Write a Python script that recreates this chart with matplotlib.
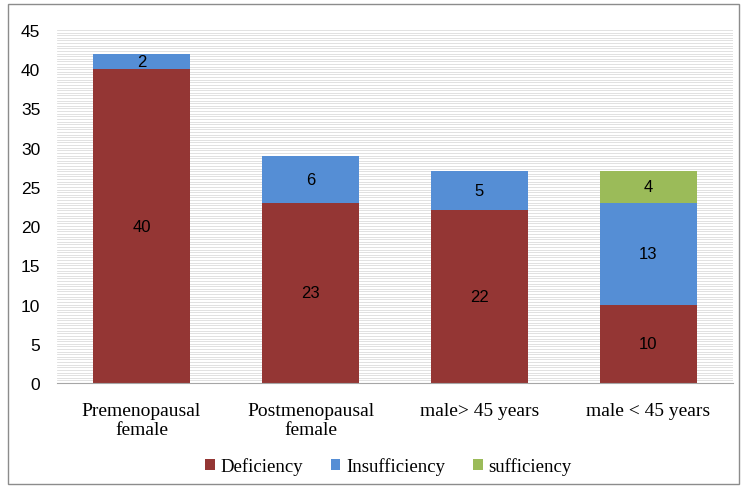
import matplotlib
matplotlib.use('Agg')
import matplotlib.pyplot as plt
import numpy as np

categories = ['Premenopausal\nfemale', 'Postmenopausal\nfemale', 'male> 45 years', 'male < 45 years']
deficiency = [40, 23, 22, 10]
insufficiency = [2, 6, 5, 13]
sufficiency = [0, 0, 0, 4]
series_names = ['Deficiency', 'Insufficiency', 'sufficiency']

RED = '#943634'
BLUE = '#558ED5'
GREEN = '#9BBB59'

fig = plt.figure(figsize=(7.44, 4.89), dpi=100)
ax = fig.add_axes([57/744, 1 - 384/489, (733-57)/744, (384-31)/489])

# outer frame like the spreadsheet chart border
fig.patches.append(plt.Rectangle((8/744, 4/489), 731/744, 480/489, transform=fig.transFigure,
                                 fill=False, edgecolor='#8c8c8c', linewidth=1.0))

# striped background lines
for yy in np.arange(0, 45, 1/3):
    ax.axhline(yy, color='#dcdcdc', linewidth=0.6, zorder=0)
ax.axhline(45, color='#dcdcdc', linewidth=0.6, zorder=0)

x = np.arange(len(categories))
w = 0.57
b1 = ax.bar(x, deficiency, w, color=RED, label=series_names[0], zorder=2)
b2 = ax.bar(x, insufficiency, w, bottom=deficiency, color=BLUE, label=series_names[1], zorder=2)
bottom3 = [d + i for d, i in zip(deficiency, insufficiency)]
b3 = ax.bar(x, sufficiency, w, bottom=bottom3, color=GREEN, label=series_names[2], zorder=2)

for vals, bots in [(deficiency, [0]*4), (insufficiency, deficiency), (sufficiency, bottom3)]:
    for xi, v, b in zip(x, vals, bots):
        if v > 0:
            ax.text(xi, b + v/2, str(v), ha='center', va='center', fontsize=12,
                    family='Liberation Sans', color='black', zorder=3)

ax.set_xlim(-0.5, 3.5)
ax.set_ylim(0, 45)
ax.set_yticks(range(0, 46, 5))
ax.set_xticks(x)
ax.set_xticklabels(categories, family='Liberation Serif', fontsize=14, linespacing=1.15)
for lab in ax.get_yticklabels():
    lab.set_family('Liberation Sans')
    lab.set_fontsize(12.5)
ax.tick_params(axis='both', length=0)
ax.tick_params(axis='x', pad=14)
ax.tick_params(axis='y', pad=12)
for s in ['top', 'right', 'left']:
    ax.spines[s].set_visible(False)
ax.spines['bottom'].set_color('#a6a6a6')

leg = fig.legend(handles=[b1, b2, b3], labels=series_names, loc='center', bbox_to_anchor=(0.522, 1 - 467/489),
                 ncol=3, frameon=False, prop={'family': 'Liberation Serif', 'size': 13.5},
                 handlelength=0.5, handleheight=0.5, handletextpad=0.3, columnspacing=1.5)

plt.savefig('out.png', dpi=100, facecolor='white')
